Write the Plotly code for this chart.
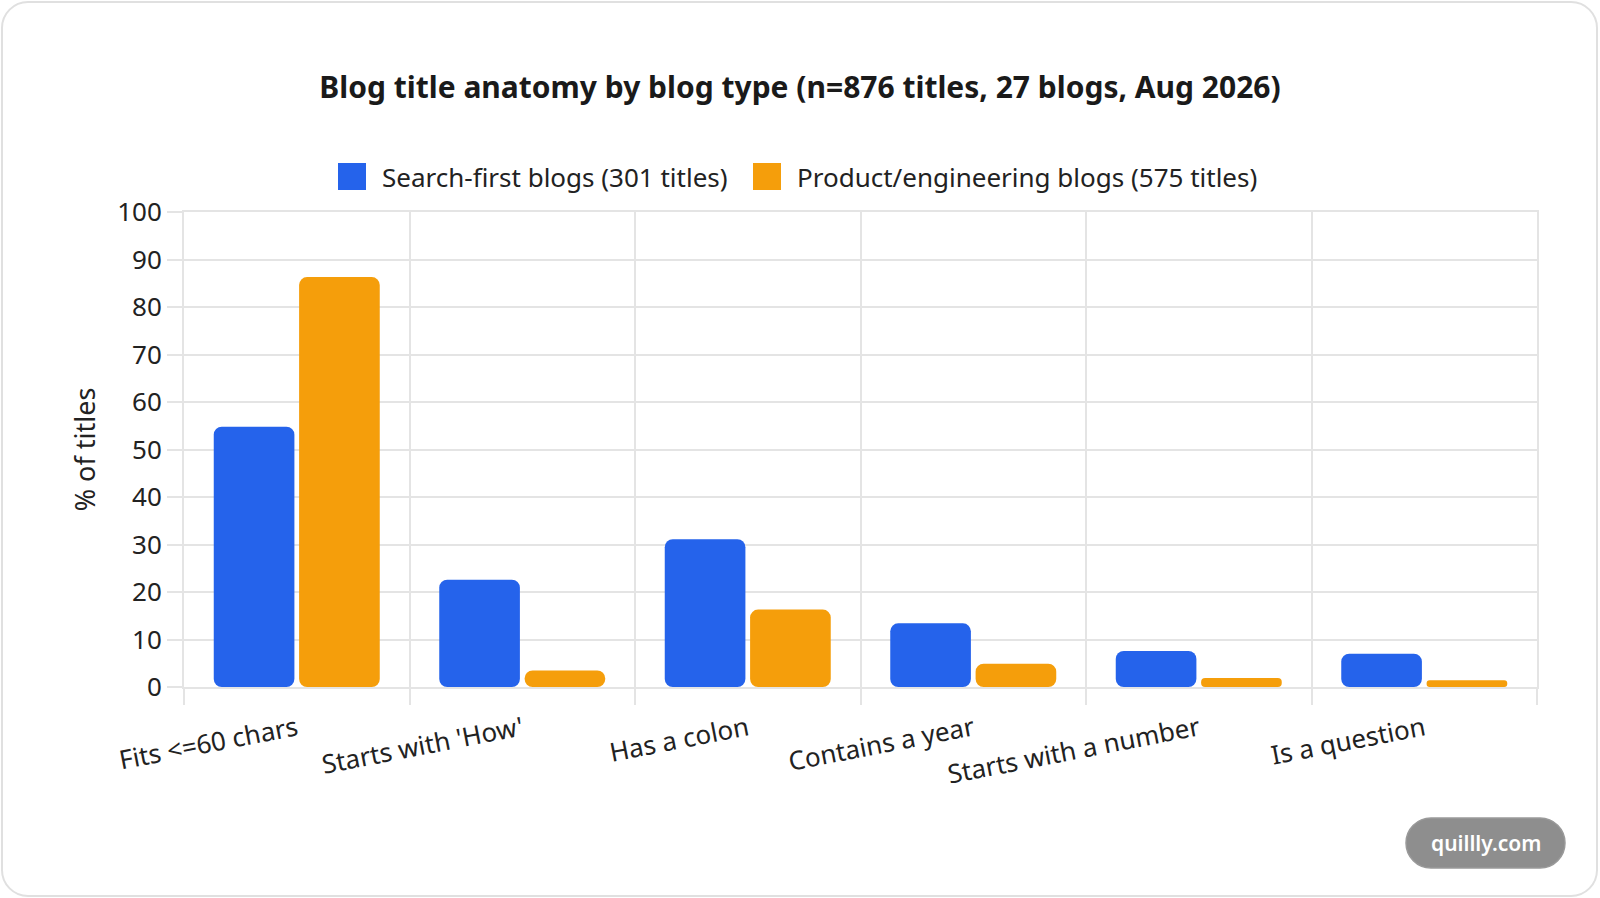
import plotly.graph_objs as go

# values, % of titles
categories = ["Fits <=60 chars", "Starts with 'How'", "Has a colon",
              "Contains a year", "Starts with a number", "Is a question"]
search_first = [54.8, 22.6, 31.1, 13.4, 7.6, 7.0]
product_eng = [86.3, 3.5, 16.3, 4.9, 1.9, 1.4]
series_names = ["Search-first blogs (301 titles)",
                "Product/engineering blogs (575 titles)"]
series_colors = ["#2563eb", "#f59e0b"]
y_ticks = [0, 10, 20, 30, 40, 50, 60, 70, 80, 90, 100]

W, H = 1600, 898
M_L, M_R, M_T, M_B = 184, 63, 212, 211
FONT = "Noto Sans"
GRID = "#e4e4e4"
TEXT = "#222222"


def to_paper(px, py):
    """ pixel position on the page -> paper coordinates """
    pw = W - M_L - M_R
    ph = H - M_T - M_B
    return (px - M_L) / pw, (H - M_B - py) / ph
# end function


def rounded_rect(x0, y0, x1, y1, r):
    """ svg path of a rounded rectangle, given in pixels """
    k = 0.5523 * r
    pts = [
        ("M", [(x0 + r, y0)]),
        ("L", [(x1 - r, y0)]),
        ("C", [(x1 - r + k, y0), (x1, y0 + r - k), (x1, y0 + r)]),
        ("L", [(x1, y1 - r)]),
        ("C", [(x1, y1 - r + k), (x1 - r + k, y1), (x1 - r, y1)]),
        ("L", [(x0 + r, y1)]),
        ("C", [(x0 + r - k, y1), (x0, y1 - r + k), (x0, y1 - r)]),
        ("L", [(x0, y0 + r)]),
        ("C", [(x0, y0 + r - k), (x0 + r - k, y0), (x0 + r, y0)]),
    ]
    out = ""
    for cmd, coords in pts:
        out += cmd + " ".join("%.5f,%.5f" % to_paper(x, y) for x, y in coords) + " "
    return out + "Z"
# end function


def bar_trace(values, name, color, group):
    # an explicit base makes plotly round both ends of the bar
    return go.Bar(
        x=categories, y=values, base=[0] * len(values),
        name=name, offsetgroup=group, showlegend=False,
        marker=dict(color=color, cornerradius=8, line=dict(width=0)),
        hovertemplate="%{x}: %{y}%<extra></extra>"
    )
# end function


def legend_items():
    """ legend drawn by hand so the swatches match the reference size """
    shapes, notes = [], []
    swatch_x = [338, 753]
    for i, name in enumerate(series_names):
        x0 = swatch_x[i]
        sx0, sy0 = to_paper(x0, 163)
        sx1, sy1 = to_paper(x0 + 28, 190)
        shapes.append(dict(type="rect", xref="paper", yref="paper",
                           x0=sx0, y0=sy0, x1=sx1, y1=sy1,
                           fillcolor=series_colors[i], line=dict(width=0)))
        tx, ty = to_paper(x0 + 42, 177)
        notes.append(dict(text=name, xref="paper", yref="paper", x=tx, y=ty,
                          xanchor="left", yanchor="middle", showarrow=False,
                          font=dict(family=FONT, size=26, color=TEXT)))
    return shapes, notes
# end function


data = [
    bar_trace(search_first, series_names[0], series_colors[0], "a"),
    bar_trace(product_eng, series_names[1], series_colors[1], "b"),
]

leg_shapes, leg_notes = legend_items()
pill_x, pill_y = to_paper(1485.5, 843)

layout = go.Layout(
    width=W, height=H,
    margin=dict(l=M_L, r=M_R, t=M_T, b=M_B, autoexpand=False),
    paper_bgcolor="white", plot_bgcolor="white",
    font=dict(family=FONT, color=TEXT),
    showlegend=False,
    barmode="group", bargap=0.243, bargroupgap=0.055,
    title=dict(
        text="Blog title anatomy by blog type (n=876 titles, 27 blogs, Aug 2026)",
        font=dict(family=FONT, size=30, weight="bold", color="#1a1a1a"),
        x=0.5, xref="container", xanchor="center",
        y=1 - 87 / H, yref="container", yanchor="middle"
    ),
    xaxis=dict(
        type="category", tickson="boundaries",
        showgrid=True, gridcolor=GRID, gridwidth=2,
        ticks="outside", ticklen=16, tickcolor=GRID, tickwidth=2,
        tickangle=-11, tickfont=dict(size=26, color=TEXT),
        ticklabelstandoff=15,
        showline=True, linecolor=GRID, linewidth=2, mirror=True,
        zeroline=False
    ),
    yaxis=dict(
        range=[0, 100], tickvals=y_ticks,
        showgrid=True, gridcolor=GRID, gridwidth=2,
        ticks="outside", ticklen=15, tickcolor=GRID, tickwidth=2,
        tickfont=dict(size=26, color=TEXT),
        title=dict(text="% of titles", font=dict(size=27, color=TEXT),
                   standoff=14),
        showline=True, linecolor=GRID, linewidth=2, mirror=True,
        zeroline=False
    ),
    shapes=[
        dict(type="path", xref="paper", yref="paper", layer="below",
             path=rounded_rect(2, 2, 1597, 896, 26),
             line=dict(color="#e0e0e0", width=2), fillcolor="rgba(0,0,0,0)"),
        dict(type="path", xref="paper", yref="paper", layer="above",
             path=rounded_rect(1406, 818, 1565, 868, 25),
             line=dict(color="#9a9a9a", width=1.5), fillcolor="#8e8e8e"),
    ] + leg_shapes,
    annotations=[
        dict(text="quillly.com", xref="paper", yref="paper",
             x=pill_x, y=pill_y, xanchor="center", yanchor="middle",
             showarrow=False, font=dict(family=FONT, size=21, color="white",
                                        weight=600))
    ] + leg_notes
)

fig = go.Figure(data=data, layout=layout)
fig.write_html("out.html", config={"displayModeBar": False},
               post_script="document.body.style.margin='0';")
